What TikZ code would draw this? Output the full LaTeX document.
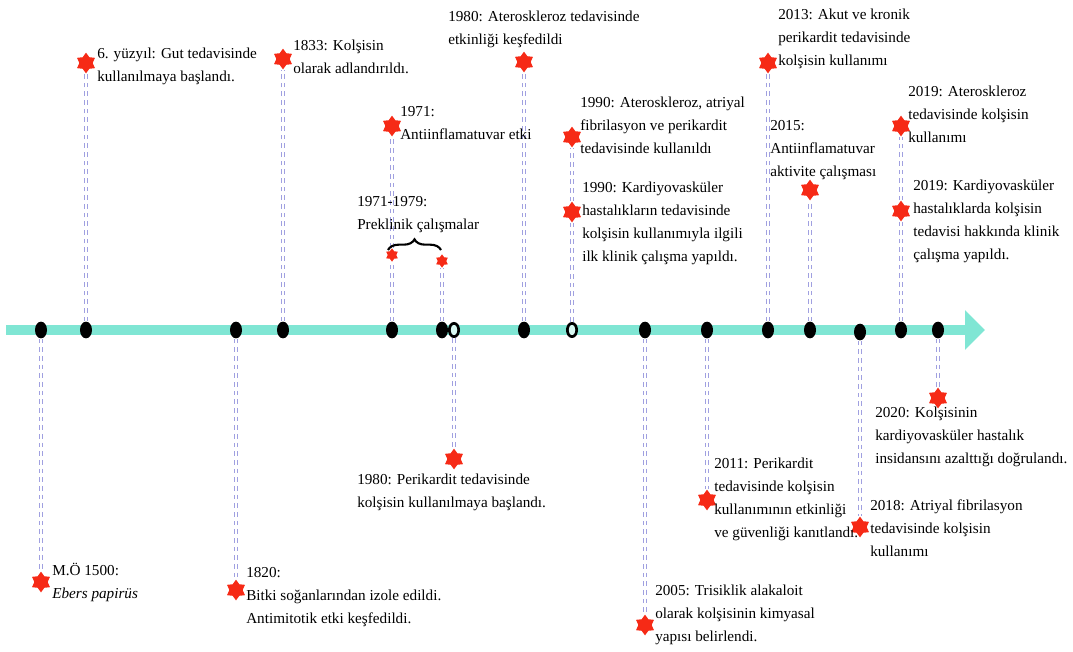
\documentclass[tikz,border=0pt]{standalone}
\usepackage{fontspec}
\setmainfont{Liberation Serif}
\usepackage{tikz}
\usetikzlibrary{arrows.meta,shapes.geometric,decorations.pathreplacing}
\usepackage{xcolor}
\definecolor{tlteal}{RGB}{128,230,212}
\definecolor{tllav}{RGB}{160,160,224}
\definecolor{tlred}{RGB}{246,42,22}
\tikzstyle{event} = [star, star points=6, star point ratio=1.55, fill=tlred, inner sep=0pt, minimum size=15.5pt]
\tikzstyle{smallevent} = [event, minimum size=10pt]
\tikzstyle{tdot} = [ellipse, fill=black, inner sep=0pt, minimum width=9pt, minimum height=12.5pt]
\tikzstyle{hollowdot} = [ellipse, draw=black, line width=2pt, fill=tlteal!30, inner sep=0pt, minimum width=7pt, minimum height=10pt]
\tikzstyle{conn} = [draw=tllav, line width=1pt, double=white, double distance=1.3pt, dash pattern=on 3.5pt off 3pt]
\tikzstyle{desc} = [anchor=north west, inner sep=0pt, align=left, font={\fontsize{11.4}{17.25}\selectfont}]

\begin{document}
\begin{tikzpicture}[x=0.75pt, y=-0.75pt]
\useasboundingbox (0,0) rectangle (1073,651);

% time axis
\coordinate (tstart) at (6,330);
\coordinate (tend) at (985,330);
\draw[tlteal, line width=7.5pt, -{Triangle[width=29pt,length=15pt]}] (tstart) -- (tend);

% points on the axis
\node[tdot] (d1) at (41,330) {};
\node[tdot] (d2) at (86,330) {};
\node[tdot] (d3) at (236,330) {};
\node[tdot] (d4) at (283,330) {};
\node[tdot] (d5) at (392,330) {};
\node[tdot] (d6) at (442,330) {};
\node[hollowdot] (d7) at (454,330) {};
\node[tdot] (d8) at (524,330) {};
\node[hollowdot] (d9) at (572,330) {};
\node[tdot] (d10) at (645,330) {};
\node[tdot] (d11) at (707,330) {};
\node[tdot] (d12) at (768,330) {};
\node[tdot] (d13) at (810,330) {};
\node[tdot] (d14) at (860,332) {};
\node[tdot] (d15) at (901,330) {};
\node[tdot] (d16) at (938,330) {};

% events
\node[event] (s1) at (41,582) {};
\node[event] (s2) at (86,63) {};
\node[event] (s3) at (236,590) {};
\node[event] (s4) at (283,59) {};
\node[event] (s5) at (392,126) {};
\node[smallevent] (b1) at (392,255) {};
\node[smallevent] (b2) at (442,261) {};
\node[event] (s6) at (454,459) {};
\node[event] (s7) at (524,62) {};
\node[event] (s8) at (572,137) {};
\node[event] (s9) at (572,212) {};
\node[event] (s10) at (645,625) {};
\node[event] (s11) at (707,500) {};
\node[event] (s12) at (768,63) {};
\node[event] (s13) at (810,190) {};
\node[event] (s14) at (860,527) {};
\node[event] (s15) at (901,126) {};
\node[event] (s16) at (901,211) {};
\node[event] (s17) at (938,398) {};

% dashed guides
\draw[conn] (d1) -- (s1);
\draw[conn] (d2) -- (s2);
\draw[conn] (d3) -- (s3);
\draw[conn] (d4) -- (s4);
\draw[conn] (d5) -- (b1);
\draw[conn] (b1) -- (s5);
\draw[conn] (d6) -- (b2);
\draw[conn] (d7) -- (s6);
\draw[conn] (d8) -- (s7);
\draw[conn] (d9) -- (s9);
\draw[conn] (s9) -- (s8);
\draw[conn] (d10) -- (s10);
\draw[conn] (d11) -- (s11);
\draw[conn] (d12) -- (s12);
\draw[conn] (d13) -- (s13);
\draw[conn] (d14) -- (s14);
\draw[conn] (d15) -- (s16);
\draw[conn] (s16) -- (s15);
\draw[conn] (d16) -- (s17);

% preclinical brace
\coordinate (br1) at (388,250);
\coordinate (br2) at (441,250);
\draw[decorate, decoration={brace, amplitude=8pt}, line width=1.6pt] (br1) -- (br2);

% texts
\node[desc] (t1) at (52,563) {M.Ö 1500:\\\textit{Ebers papirüs}};
\node[desc] (t2) at (97,48) {6. yüzyıl: Gut tedavisinde\\kullanılmaya başlandı.};
\node[desc] (t3) at (246,567) {1820:\\Bitki soğanlarından izole edildi.\\Antimitotik etki keşfedildi.};
\node[desc] (t4) at (293,40) {1833: Kolşisin\\olarak adlandırıldı.};
\node[desc] (t5) at (400,106) {1971:\\Antiinflamatuvar etki};
\node[desc] (t6) at (357,196) {1971-1979:\\Preklinik çalışmalar};
\node[desc] (t7) at (357,474) {1980: Perikardit tedavisinde\\kolşisin kullanılmaya başlandı.};
\node[desc] (t8) at (448,11) {1980: Ateroskleroz tedavisinde\\etkinliği keşfedildi};
\node[desc] (t9) at (580,97) {1990: Ateroskleroz, atriyal\\fibrilasyon ve perikardit\\tedavisinde kullanıldı};
\node[desc] (t10) at (582,182) {1990: Kardiyovasküler\\hastalıkların tedavisinde\\kolşisin kullanımıyla ilgili\\ilk klinik çalışma yapıldı.};
\node[desc] (t11) at (655,585) {2005: Trisiklik alakaloit\\olarak kolşisinin kimyasal\\yapısı belirlendi.};
\node[desc] (t12) at (714,458) {2011: Perikardit\\tedavisinde kolşisin\\kullanımının etkinliği\\ve güvenliği kanıtlandı.};
\node[desc] (t13) at (778,9) {2013: Akut ve kronik\\perikardit tedavisinde\\kolşisin kullanımı};
\node[desc] (t14) at (770,120) {2015:\\Antiinflamatuvar\\aktivite çalışması};
\node[desc] (t15) at (870,500) {2018: Atriyal fibrilasyon\\tedavisinde kolşisin\\kullanımı};
\node[desc] (t16) at (908,86) {2019: Ateroskleroz\\tedavisinde kolşisin\\kullanımı};
\node[desc] (t17) at (913,180) {2019: Kardiyovasküler\\hastalıklarda kolşisin\\tedavisi hakkında klinik\\çalışma yapıldı.};
\node[desc] (t18) at (875,407) {2020: Kolşisinin\\kardiyovasküler hastalık\\insidansını azalttığı doğrulandı.};
\end{tikzpicture}
\end{document}
